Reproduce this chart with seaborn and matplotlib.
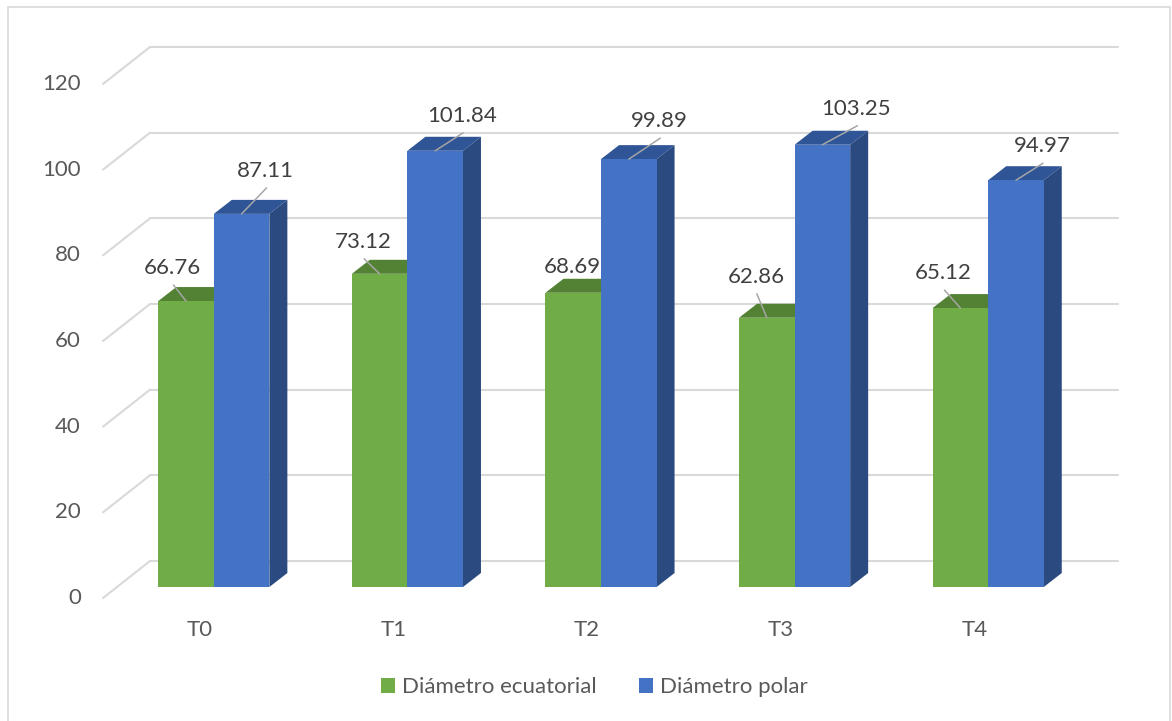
import matplotlib
matplotlib.use("Agg")
import matplotlib.pyplot as plt
from matplotlib.patches import Polygon, Rectangle
from matplotlib.lines import Line2D
import seaborn as sns
import pandas as pd

# Data
categories = ["T0", "T1", "T2", "T3", "T4"]
ecuatorial = [66.76, 73.12, 68.69, 62.86, 65.12]
polar = [87.11, 101.84, 99.89, 103.25, 94.97]
series_names = ["Diámetro ecuatorial", "Diámetro polar"]
y_ticks = [0, 20, 40, 60, 80, 100, 120]

# Label placement relative to each bar's top (pixels: right, up) and leader-line flag
label_offsets = {
    0: [(-13.5, 33), (-16.5, 32), (-1, 26), (-11, 41), (-17, 35)],
    1: [(24, 43), (27, 35), (30.5, 38), (34, 36), (26, 34)],
}
leader = {
    0: [True, True, False, True, True],
    1: [True, True, True, True, True],
}

front_colors = ["#70ad47", "#4472c4"]
top_colors = ["#548235", "#2f5597"]
side_colors = ["#4e7a31", "#2b4a80"]
grid_color = "#d9d9d9"
text_color = "#595959"
value_color = "#404040"
FS = 16

sns.set_theme(style="white")
plt.rcParams["font.family"] = ["Lato", "DejaVu Sans"]

W, H = 1172, 721
fig = plt.figure(figsize=(W / 100, H / 100), dpi=100)
fig.patch.set_facecolor("white")
ax = fig.add_axes([117 / W, (H - 587) / H, 968 / W, 514 / H])

df = pd.DataFrame({
    "Tratamiento": categories * 2,
    "Valor": ecuatorial + polar,
    "Serie": [series_names[0]] * len(categories) + [series_names[1]] * len(categories),
})

sns.barplot(data=df, x="Tratamiento", y="Valor", hue="Serie", hue_order=series_names,
            palette=front_colors, saturation=1, width=0.574, gap=0, linewidth=0,
            ax=ax, zorder=3)
ax.set_xlim(-0.5, 4.5)
ax.set_ylim(0, 120)
ax.axis("off")

# pixel scale of the data axes
p0 = ax.transData.transform((0, 0))
p1 = ax.transData.transform((1, 1))
px_x = p1[0] - p0[0]
px_y = p1[1] - p0[1]


def off(x, y, dxp, dyp):
    return (x + dxp / px_x, y + dyp / px_y)


DEPTH = (18, 14)        # bar depth offset
FRONT = (-14, -11)      # front floor plane relative to bar faces
BACK = (33, 26)         # back wall relative to bar faces

# back wall gridlines and the diagonal side lines
for lv in y_ticks:
    a = off(-0.5, lv, *BACK)
    b = off(4.5, lv, *BACK)
    ax.add_line(Line2D([a[0], b[0]], [a[1], b[1]], color=grid_color, lw=1.5,
                       zorder=0, clip_on=False))
    c = off(-0.5, lv, *FRONT)
    ax.add_line(Line2D([c[0], a[0]], [c[1], a[1]], color=grid_color, lw=1.5,
                       zorder=0, clip_on=False))
    tx, ty = off(-0.5, lv, -36, -11)
    ax.text(tx, ty, f"{lv}", ha="right", va="center", fontsize=FS,
            color=text_color, clip_on=False)

# category labels
for i, cat in enumerate(categories):
    tx, ty = off(i, 0, -14, -43)
    ax.text(tx, ty, cat, ha="center", va="center", fontsize=FS, color=text_color)

# 3D faces, value labels and leader lines
for k, cont in enumerate(ax.containers):
    for j, p in enumerate(cont.patches):
        x0 = p.get_x()
        w = p.get_width()
        h = p.get_height()
        p.set_zorder(3)
        top = Polygon([(x0, h), (x0 + w, h), off(x0 + w, h, *DEPTH), off(x0, h, *DEPTH)],
                      closed=True, facecolor=top_colors[k], edgecolor="none",
                      zorder=2, clip_on=False)
        side = Polygon([(x0 + w, 0), (x0 + w, h), off(x0 + w, h, *DEPTH), off(x0 + w, 0, *DEPTH)],
                       closed=True, facecolor=side_colors[k], edgecolor="none",
                       zorder=2, clip_on=False)
        ax.add_patch(top)
        ax.add_patch(side)

        bx = x0 + w / 2
        ox, oy = label_offsets[k][j]
        tx, ty = off(bx, h, ox, oy)
        ax.text(tx, ty, f"{h:.2f}", ha="center", va="center", fontsize=FS,
                color=value_color, zorder=6, clip_on=False)
        if leader[k][j]:
            ex, ey = off(bx, h, ox + 1, oy - 17)
            ax.add_line(Line2D([bx, ex], [h, ey], color="#a6a6a6", lw=1.1,
                               zorder=5, clip_on=False))

# legend
handles, labels = ax.get_legend_handles_labels()
if ax.get_legend() is not None:
    ax.get_legend().remove()
fig.legend(handles, labels, loc="center", bbox_to_anchor=(594 / W, 1 - 687 / H),
           ncol=2, frameon=False, fontsize=FS, labelcolor=text_color,
           handlelength=0.65, handleheight=0.65, handletextpad=0.3, columnspacing=1.9)

# chart border
fig.add_artist(Rectangle((8 / W, -0.02), (1170 - 8) / W, 1 - 7 / H + 0.02,
                         transform=fig.transFigure, fill=False,
                         edgecolor=grid_color, lw=1.2))

fig.savefig("out.png", dpi=100)
